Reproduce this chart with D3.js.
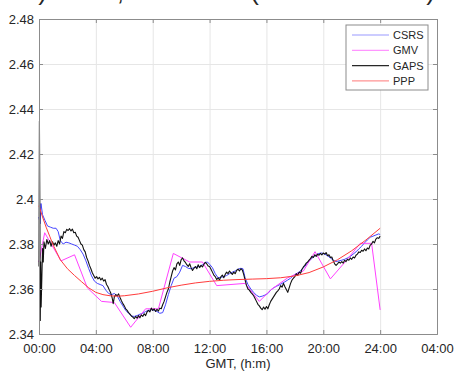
<!DOCTYPE html>
<html>
<head>
<meta charset="utf-8">
<script src="https://cdn.jsdelivr.net/npm/d3@7"></script>
<style>
  body { margin: 0; background: white; }
  svg text { font-family: "Liberation Sans", Arial, sans-serif; fill: #262626; }
</style>
</head>
<body>
<div class="content"></div>
<script>
// ZTD series, hours since 00:00 GMT -> metres
const csrs = [
  [0, 2.392], [0.07, 2.389], [0.14, 2.398], [0.25, 2.393], [0.42, 2.3905], [0.6, 2.388], [0.8, 2.3875],
  [1.0, 2.387], [1.2, 2.387], [1.35, 2.3855], [1.5, 2.3815], [1.7, 2.38], [1.9, 2.3808], [2.1, 2.3805],
  [2.3, 2.38], [2.5, 2.3795], [2.7, 2.379], [2.9, 2.3775], [3.1, 2.3755], [3.3, 2.3725], [3.5, 2.369],
  [3.7, 2.3658], [3.9, 2.3635], [4.1, 2.3625], [4.3, 2.362], [4.5, 2.3615], [4.7, 2.3595], [4.9, 2.358],
  [5.1, 2.3575], [5.3, 2.358], [5.5, 2.357], [5.7, 2.3545], [5.9, 2.3525], [6.1, 2.3505], [6.3, 2.3492],
  [6.5, 2.348], [6.7, 2.3478], [6.9, 2.3482], [7.1, 2.3488], [7.3, 2.3492], [7.5, 2.35], [7.7, 2.3505],
  [7.9, 2.3508], [8.1, 2.3506], [8.3, 2.35], [8.5, 2.3492], [8.7, 2.3495], [8.9, 2.353], [9.1, 2.3575],
  [9.3, 2.3615], [9.5, 2.3648], [9.7, 2.3655], [9.9, 2.3675], [10.1, 2.3705], [10.3, 2.37], [10.5, 2.3692],
  [10.7, 2.369], [10.9, 2.3695], [11.1, 2.3698], [11.3, 2.37], [11.5, 2.3708], [11.7, 2.3718], [11.85, 2.372],
  [12.0, 2.371], [12.2, 2.3695], [12.4, 2.3668], [12.6, 2.365], [12.8, 2.3652], [13.0, 2.3655], [13.2, 2.366],
  [13.4, 2.3668], [13.6, 2.3675], [13.8, 2.368], [14.0, 2.3688], [14.2, 2.3692], [14.35, 2.369], [14.5, 2.365],
  [14.7, 2.362], [14.9, 2.36], [15.1, 2.3585], [15.3, 2.3572], [15.5, 2.3565], [15.7, 2.3568], [15.9, 2.3573],
  [16.1, 2.358], [16.3, 2.3595], [16.5, 2.3605], [16.7, 2.3612], [16.9, 2.3618], [17.1, 2.3625], [17.3, 2.3632],
  [17.5, 2.364], [17.7, 2.3648], [17.9, 2.366], [18.1, 2.3668], [18.3, 2.3675], [18.5, 2.3688], [18.7, 2.37],
  [18.9, 2.3718], [19.1, 2.373], [19.3, 2.3742], [19.5, 2.3752], [19.7, 2.3758], [19.9, 2.376], [20.1, 2.3755],
  [20.3, 2.3748], [20.5, 2.3738], [20.7, 2.3728], [20.9, 2.3722], [21.1, 2.3725], [21.3, 2.3728], [21.5, 2.3732],
  [21.7, 2.3738], [21.9, 2.3745], [22.1, 2.3755], [22.3, 2.3765], [22.5, 2.3778], [22.7, 2.379], [22.9, 2.3805],
  [23.1, 2.3818], [23.3, 2.383], [23.5, 2.3835], [23.7, 2.384], [23.9, 2.3845], [24.0, 2.3842]
]

const gmv = [
  [0, 2.372], [0.4, 2.385], [1.55, 2.3725], [2.5, 2.3752], [3.4, 2.3605], [4.4, 2.3545], [5.3, 2.354],
  [6.45, 2.343], [7.5, 2.3512], [8.4, 2.3512], [9.45, 2.3758], [10.6, 2.372], [11.5, 2.372], [12.5, 2.3615],
  [14.5, 2.3625], [15.5, 2.3545], [16.3, 2.3596], [17.5, 2.365], [18.6, 2.368], [19.42, 2.3766], [20.5, 2.3645],
  [21.6, 2.3725], [22.6, 2.3803], [23.4, 2.3803], [24.0, 2.3507]
]

const gaps = [
  [0, 2.37], [0.03, 2.4345], [0.06, 2.395], [0.09, 2.346], [0.12, 2.372], [0.15, 2.352], [0.2, 2.365],
  [0.25, 2.378], [0.3, 2.372], [0.35, 2.381], [0.45, 2.378], [0.55, 2.382], [0.65, 2.38], [0.75, 2.3815],
  [0.85, 2.379], [0.95, 2.381], [1.05, 2.3795], [1.15, 2.3805], [1.25, 2.379], [1.35, 2.3815], [1.45, 2.38],
  [1.55, 2.3835], [1.65, 2.3825], [1.75, 2.3855], [1.85, 2.385], [1.95, 2.3865], [2.05, 2.386], [2.15, 2.3868],
  [2.25, 2.3858], [2.35, 2.3866], [2.45, 2.385], [2.55, 2.3852], [2.65, 2.3835], [2.75, 2.383], [2.85, 2.3815],
  [2.95, 2.38], [3.05, 2.3795], [3.15, 2.3775], [3.25, 2.3765], [3.35, 2.374], [3.45, 2.3725], [3.55, 2.3705],
  [3.65, 2.369], [3.75, 2.3672], [3.85, 2.366], [3.95, 2.3648], [4.05, 2.3655], [4.15, 2.3645], [4.25, 2.3652],
  [4.35, 2.364], [4.45, 2.3648], [4.55, 2.3635], [4.65, 2.3642], [4.75, 2.362], [4.85, 2.361], [4.95, 2.3595],
  [5.05, 2.3582], [5.15, 2.356], [5.22, 2.3535], [5.3, 2.3565], [5.4, 2.3575], [5.5, 2.357], [5.6, 2.3578],
  [5.7, 2.3562], [5.8, 2.3548], [5.9, 2.3535], [6.0, 2.3525], [6.1, 2.3512], [6.2, 2.3505], [6.3, 2.3495],
  [6.4, 2.3488], [6.5, 2.348], [6.6, 2.3475], [6.7, 2.3468], [6.8, 2.3478], [6.9, 2.347], [7.0, 2.3482],
  [7.1, 2.3472], [7.2, 2.3485], [7.3, 2.3478], [7.4, 2.349], [7.5, 2.3482], [7.6, 2.3498], [7.7, 2.3505],
  [7.8, 2.3498], [7.9, 2.3515], [8.0, 2.3505], [8.1, 2.3512], [8.2, 2.35], [8.3, 2.351], [8.4, 2.3502],
  [8.5, 2.3515], [8.6, 2.3512], [8.7, 2.353], [8.8, 2.3545], [8.9, 2.3565], [9.0, 2.3585], [9.1, 2.36],
  [9.2, 2.363], [9.3, 2.3655], [9.4, 2.368], [9.5, 2.3695], [9.6, 2.3685], [9.7, 2.3712], [9.8, 2.372],
  [9.9, 2.3705], [10.0, 2.373], [10.1, 2.3738], [10.2, 2.3725], [10.3, 2.3718], [10.4, 2.3708], [10.5, 2.37],
  [10.6, 2.3712], [10.7, 2.3695], [10.8, 2.3682], [10.9, 2.3692], [11.0, 2.37], [11.1, 2.369], [11.2, 2.3708],
  [11.3, 2.3695], [11.4, 2.3705], [11.5, 2.3698], [11.6, 2.371], [11.7, 2.3718], [11.8, 2.3712], [11.9, 2.3702],
  [12.0, 2.37], [12.1, 2.3688], [12.2, 2.3675], [12.3, 2.3662], [12.4, 2.3655], [12.5, 2.3642], [12.6, 2.365],
  [12.7, 2.364], [12.8, 2.3655], [12.9, 2.3662], [13.0, 2.365], [13.1, 2.3665], [13.2, 2.3675], [13.3, 2.3668],
  [13.4, 2.368], [13.5, 2.3672], [13.6, 2.3665], [13.7, 2.3675], [13.8, 2.3668], [13.9, 2.3682], [14.0, 2.3688],
  [14.1, 2.368], [14.2, 2.369], [14.3, 2.3685], [14.4, 2.3665], [14.5, 2.364], [14.6, 2.3615], [14.7, 2.36],
  [14.8, 2.3595], [14.9, 2.3585], [15.0, 2.3578], [15.1, 2.357], [15.2, 2.3558], [15.3, 2.3545], [15.4, 2.3532],
  [15.5, 2.3525], [15.6, 2.3515], [15.7, 2.3508], [15.8, 2.352], [15.9, 2.351], [16.0, 2.3522], [16.1, 2.3512],
  [16.2, 2.353], [16.3, 2.3545], [16.4, 2.3555], [16.5, 2.3565], [16.6, 2.3575], [16.7, 2.3585], [16.8, 2.3592],
  [16.9, 2.36], [17.0, 2.3615], [17.1, 2.3608], [17.2, 2.3625], [17.3, 2.361], [17.4, 2.3598], [17.5, 2.3585],
  [17.6, 2.3605], [17.7, 2.3625], [17.8, 2.364], [17.9, 2.3648], [18.0, 2.3655], [18.1, 2.3668], [18.2, 2.366],
  [18.3, 2.3675], [18.4, 2.367], [18.5, 2.3688], [18.6, 2.3698], [18.7, 2.3705], [18.8, 2.3715], [18.9, 2.372],
  [19.0, 2.3728], [19.1, 2.3735], [19.2, 2.3745], [19.3, 2.374], [19.4, 2.3752], [19.5, 2.3745], [19.6, 2.3755],
  [19.7, 2.375], [19.8, 2.3758], [19.9, 2.3752], [20.0, 2.376], [20.1, 2.3755], [20.2, 2.3762], [20.3, 2.3748],
  [20.4, 2.3752], [20.5, 2.374], [20.6, 2.3742], [20.7, 2.3725], [20.8, 2.3712], [20.9, 2.3705], [21.0, 2.3712],
  [21.1, 2.372], [21.2, 2.3715], [21.3, 2.3722], [21.4, 2.3715], [21.5, 2.3728], [21.6, 2.3722], [21.7, 2.3732],
  [21.8, 2.3728], [21.9, 2.3738], [22.0, 2.3732], [22.1, 2.3742], [22.2, 2.3738], [22.3, 2.375], [22.4, 2.3755],
  [22.5, 2.3765], [22.6, 2.3762], [22.7, 2.3772], [22.8, 2.3768], [22.9, 2.3778], [23.0, 2.377], [23.1, 2.3782],
  [23.2, 2.3778], [23.3, 2.3795], [23.4, 2.38], [23.5, 2.3812], [23.6, 2.3805], [23.7, 2.3822], [23.8, 2.3828],
  [23.9, 2.3825], [24.0, 2.3835]
]

const ppp = [
  [0, 2.397], [0.25, 2.392], [0.5, 2.3875], [0.75, 2.3835], [1, 2.3795], [1.5, 2.373], [2, 2.369], [2.5, 2.366],
  [3, 2.3632], [3.5, 2.3605], [4, 2.3585], [4.5, 2.3575], [5, 2.357], [5.5, 2.3568], [6, 2.357], [7, 2.3578],
  [8, 2.359], [9, 2.3605], [10, 2.3617], [11, 2.3627], [12, 2.3634], [13, 2.3639], [14, 2.3642], [15, 2.3644],
  [16, 2.3646], [17, 2.365], [18, 2.3658], [19, 2.3673], [20, 2.3698], [21, 2.373], [22, 2.377], [23, 2.3818],
  [24, 2.387]
]

const seriesNames = ['CSRS', 'GMV', 'GAPS', 'PPP']
const seriesColors = ['#4646ff', '#ff40ff', '#111111', '#ff3b3b']
const xTicks = [0, 4, 8, 12, 16, 20, 24, 28]
const xTickLabels = ['00:00', '04:00', '08:00', '12:00', '16:00', '20:00', '24:00', '04:00']
const yTicks = [2.34, 2.36, 2.38, 2.40, 2.42, 2.44, 2.46, 2.48]
const yTickLabels = ['2.34', '2.36', '2.38', '2.4', '2.42', '2.44', '2.46', '2.48']
// title is cut off by the top edge; only descending glyphs are seen
const titlePieces = ['b)', 'ZTD,', 'DOY 180 (', 'IN METRES)']
const titleEnds = [47, 124, 259, 435]

const width = 454
const height = 372
const plotLeft = 39
const plotRight = 437
const plotTop = 19
const plotBottom = 334
const axisColor = '#8c8c8c'

let svg = d3.select('div.content')
    .append('svg')
    .attr('width', width)
    .attr('height', height)

let x = d3.scaleLinear().domain([0, 28]).range([plotLeft, plotRight])
let y = d3.scaleLinear().domain([2.34, 2.48]).range([plotBottom, plotTop])

svg.append('g')
    .attr('id', 'title')
    .selectAll('text')
    .data(titlePieces)
    .join('text')
    .attr('x', (d, i) => titleEnds[i])
    .attr('y', -0.5)
    .attr('text-anchor', 'end')
    .attr('font-size', 26)
    .attr('fill', '#333')
    .text(d => d)

// grid
svg.append('g')
    .attr('transform', `translate(0, ${plotBottom})`)
    .call(d3.axisBottom(x).tickValues(xTicks).tickSize(-(plotBottom - plotTop)).tickFormat(''))
    .call(g => g.select('.domain').remove())
    .selectAll('line').attr('stroke', '#e6e6e6')
svg.append('g')
    .attr('transform', `translate(${plotLeft}, 0)`)
    .call(d3.axisLeft(y).tickValues(yTicks).tickSize(-(plotRight - plotLeft)).tickFormat(''))
    .call(g => g.select('.domain').remove())
    .selectAll('line').attr('stroke', '#e6e6e6')

// series lines, in legend order
let line = d3.line().x(d => x(d[0])).y(d => y(d[1]))
let allSeries = [csrs, gmv, gaps, ppp]
svg.append('g')
    .attr('id', 'lines')
    .selectAll('path')
    .data(allSeries)
    .join('path')
    .attr('d', d => line(d))
    .attr('fill', 'none')
    .attr('stroke', (d, i) => seriesColors[i])
    .attr('stroke-width', (d, i) => i == 2 ? 1.1 : 1)
    .attr('stroke-linejoin', 'round')

// axes with inward ticks on all four sides
svg.append('g')
    .attr('class', 'axis')
    .attr('transform', `translate(0, ${plotBottom})`)
    .call(d3.axisBottom(x).tickValues(xTicks).tickSize(-4).tickPadding(10)
        .tickFormat((d, i) => xTickLabels[i]))
svg.append('g')
    .attr('class', 'axis')
    .attr('transform', `translate(${plotLeft}, 0)`)
    .call(d3.axisLeft(y).tickValues(yTicks).tickSize(-4).tickPadding(5)
        .tickFormat((d, i) => yTickLabels[i]))
svg.append('g')
    .attr('class', 'axis')
    .attr('transform', `translate(0, ${plotTop})`)
    .call(d3.axisTop(x).tickValues(xTicks).tickSize(-4).tickFormat(''))
svg.append('g')
    .attr('class', 'axis')
    .attr('transform', `translate(${plotRight}, 0)`)
    .call(d3.axisRight(y).tickValues(yTicks).tickSize(-4).tickFormat(''))

svg.selectAll('g.axis .domain, g.axis .tick line').attr('stroke', axisColor)
svg.selectAll('g.axis .tick text')
    .attr('font-size', 13)
    .attr('font-family', '"Liberation Sans", Arial, sans-serif')
    .attr('fill', '#333')

svg.append('text')
    .attr('x', (plotLeft + plotRight) / 2)
    .attr('y', 368)
    .attr('text-anchor', 'middle')
    .attr('font-size', 13)
    .attr('fill', '#333')
    .text('GMT, (h:m)')

// legend
let legend = svg.append('g').attr('id', 'legend')
legend.append('rect')
    .attr('x', 346)
    .attr('y', 25)
    .attr('width', 82)
    .attr('height', 65)
    .attr('fill', 'white')
    .attr('stroke', '#8c8c8c')
let rows = legend.selectAll('g.row')
    .data(seriesNames)
    .join('g')
    .attr('class', 'row')
    .attr('transform', (d, i) => `translate(0, ${35 + i * 15.3})`)
rows.append('line')
    .attr('x1', 352)
    .attr('x2', 389)
    .attr('stroke', (d, i) => seriesColors[i])
    .attr('stroke-opacity', (d, i) => i == 2 ? 0.9 : 0.55)
    .attr('stroke-width', 1.2)
rows.append('text')
    .attr('x', 393)
    .attr('y', 4)
    .attr('font-size', 11)
    .attr('fill', '#262626')
    .text(d => d)
</script>
</body>
</html>
